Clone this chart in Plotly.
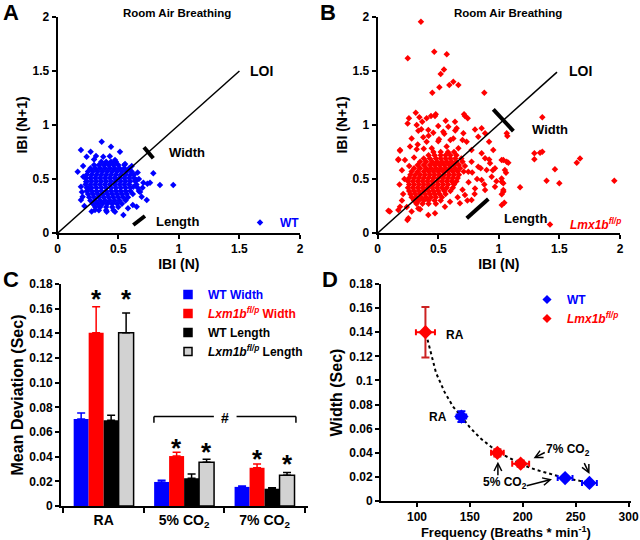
import plotly.graph_objects as go

FONT = "Liberation Sans, Arial, sans-serif"
BLUE = "#0000ff"
RED = "#ff0000"
GRAY = "#d2d2d2"

# ---------------- Panel A: WT Poincare plot (IBI(N), IBI(N+1)) ----------------
wt_core_rows = {
    0.66: [0.36, 0.40, 0.44, 0.48],
    0.63: [0.30, 0.34, 0.38, 0.42, 0.46, 0.50, 0.55],
    0.60: [0.27, 0.31, 0.35, 0.39, 0.43, 0.47, 0.51, 0.55, 0.59],
    0.57: [0.25, 0.29, 0.33, 0.37, 0.41, 0.45, 0.49, 0.53, 0.57, 0.61],
    0.54: [0.24, 0.28, 0.32, 0.36, 0.40, 0.44, 0.48, 0.52, 0.56, 0.60, 0.63],
    0.51: [0.23, 0.27, 0.31, 0.35, 0.39, 0.43, 0.47, 0.51, 0.55, 0.59, 0.63],
    0.48: [0.24, 0.28, 0.32, 0.36, 0.40, 0.44, 0.48, 0.52, 0.56, 0.60, 0.64],
    0.45: [0.23, 0.27, 0.31, 0.35, 0.39, 0.43, 0.47, 0.51, 0.55, 0.59, 0.65],
    0.42: [0.24, 0.28, 0.32, 0.36, 0.40, 0.44, 0.48, 0.52, 0.56, 0.60, 0.66],
    0.39: [0.24, 0.28, 0.32, 0.36, 0.40, 0.44, 0.48, 0.52, 0.56, 0.60, 0.67],
    0.36: [0.25, 0.29, 0.33, 0.37, 0.41, 0.45, 0.49, 0.53, 0.57, 0.62],
    0.33: [0.26, 0.30, 0.34, 0.38, 0.42, 0.46, 0.50, 0.54, 0.58],
    0.30: [0.27, 0.31, 0.35, 0.39, 0.43, 0.47, 0.51, 0.56],
    0.27: [0.29, 0.33, 0.37, 0.41, 0.45, 0.49, 0.53],
    0.24: [0.31, 0.35, 0.40, 0.45, 0.50],
    0.21: [0.34, 0.40, 0.46],
}
wt_scattered = [
    (0.363, 0.845), (0.192, 0.768), (0.440, 0.799), (0.272, 0.753), (0.514, 0.753),
    (0.316, 0.713), (0.239, 0.707), (0.376, 0.707), (0.473, 0.676), (0.611, 0.620),
    (0.556, 0.639), (0.165, 0.568), (0.789, 0.553), (0.211, 0.521), (0.652, 0.491),
    (0.707, 0.466), (0.762, 0.466), (0.844, 0.444), (0.954, 0.444), (0.624, 0.429),
    (0.192, 0.429), (0.192, 0.306), (0.206, 0.336), (0.693, 0.336), (0.735, 0.306),
    (0.652, 0.244), (0.308, 0.213), (0.404, 0.197), (0.473, 0.197), (0.542, 0.167),
    (0.253, 0.414), (0.234, 0.475), (0.210, 0.620), (0.660, 0.560), (0.670, 0.500),
    (0.620, 0.260), (0.580, 0.230), (0.280, 0.200), (0.220, 0.250), (0.200, 0.380),
    (0.680, 0.380), (0.700, 0.420), (0.740, 0.455), (0.300, 0.680), (0.430, 0.710),
]

# ---------------- Panel B: Lmx1b f/p Poincare plot ----------------
lmx_core_rows = {
    0.75: [0.46, 0.52, 0.58, 0.63],
    0.72: [0.42, 0.47, 0.52, 0.56, 0.60, 0.65],
    0.69: [0.38, 0.43, 0.48, 0.52, 0.56, 0.60, 0.64, 0.69],
    0.66: [0.35, 0.40, 0.45, 0.49, 0.53, 0.57, 0.61, 0.65, 0.70],
    0.63: [0.33, 0.38, 0.43, 0.47, 0.51, 0.55, 0.59, 0.63, 0.67],
    0.60: [0.30, 0.35, 0.40, 0.44, 0.48, 0.52, 0.56, 0.60, 0.64, 0.68],
    0.57: [0.28, 0.33, 0.38, 0.42, 0.46, 0.50, 0.54, 0.58, 0.62, 0.66, 0.71],
    0.54: [0.27, 0.31, 0.35, 0.39, 0.43, 0.47, 0.51, 0.55, 0.59, 0.63, 0.67],
    0.51: [0.26, 0.30, 0.34, 0.38, 0.42, 0.46, 0.50, 0.54, 0.58, 0.62, 0.66],
    0.48: [0.25, 0.29, 0.33, 0.37, 0.41, 0.45, 0.49, 0.53, 0.57, 0.61, 0.65],
    0.45: [0.26, 0.30, 0.34, 0.38, 0.42, 0.46, 0.50, 0.54, 0.58, 0.63],
    0.42: [0.25, 0.29, 0.33, 0.37, 0.41, 0.45, 0.49, 0.53, 0.57, 0.62],
    0.39: [0.26, 0.30, 0.34, 0.38, 0.42, 0.46, 0.50, 0.55, 0.60],
    0.36: [0.27, 0.31, 0.35, 0.39, 0.43, 0.47, 0.51, 0.56],
    0.33: [0.28, 0.32, 0.36, 0.40, 0.44, 0.48, 0.53],
    0.30: [0.30, 0.34, 0.38, 0.42, 0.47, 0.52],
    0.27: [0.32, 0.37, 0.42, 0.48],
}
lmx_scattered = [
    (0.314, 1.114), (0.473, 1.083), (0.258, 1.062), (0.344, 1.071), (0.404, 1.062),
    (0.440, 1.083), (0.720, 1.083), (0.743, 1.062), (0.247, 1.015), (0.322, 1.000),
    (0.368, 1.031), (0.561, 1.040), (0.638, 1.031), (0.500, 0.990), (0.583, 0.984),
    (0.335, 0.947), (0.418, 0.953), (0.459, 0.929), (0.541, 0.938), (0.652, 0.969),
    (0.707, 0.923), (0.803, 0.959), (0.858, 0.969), (0.886, 0.923), (0.280, 0.876),
    (0.376, 0.886), (0.404, 0.845), (0.506, 0.867), (0.624, 0.876), (0.734, 0.845),
    (0.830, 0.892), (0.919, 0.845), (0.184, 0.769), (0.267, 0.800), (0.322, 0.775),
    (0.446, 0.784), (0.569, 0.800), (0.666, 0.784), (0.775, 0.769), (0.858, 0.738),
    (0.954, 0.769), (0.225, 0.676), (0.170, 0.682), (0.886, 0.691), (0.927, 0.645),
    (0.968, 0.600), (1.023, 0.676), (0.899, 0.583), (0.830, 0.614), (0.775, 0.660),
    (0.748, 0.568), (0.941, 0.520), (0.858, 0.490), (1.023, 0.505), (0.803, 0.413),
    (0.886, 0.398), (0.968, 0.429), (1.037, 0.398), (0.720, 0.352), (0.775, 0.306),
    (0.679, 0.275), (0.555, 0.244), (0.473, 0.182), (0.335, 0.228), (0.253, 0.136),
    (0.170, 0.213), (0.184, 0.244), (0.418, 0.167), (0.597, 0.290), (0.720, 0.620),
    (0.780, 0.560), (0.820, 0.500), (0.750, 0.470), (0.700, 0.400), (0.850, 0.600),
    (0.920, 0.680), (0.950, 0.580), (0.880, 0.450), (0.800, 0.360), (0.740, 0.300),
    (0.660, 0.330), (0.980, 0.480), (0.200, 0.580), (0.220, 0.500), (0.180, 0.450),
    (0.210, 0.360), (0.200, 0.300), (0.240, 0.240), (0.280, 0.200), (0.350, 0.220),
    (0.260, 0.620), (0.300, 0.700), (0.330, 0.820), (0.380, 0.780), (0.420, 0.900),
    (0.500, 0.850), (0.550, 0.920), (0.600, 0.860), (0.640, 0.950), (0.700, 0.860),
    (0.360, 0.960), (0.100, 0.200), (0.088, 0.206), (0.245, 0.120), (0.170, 0.676),
    (0.184, 0.762),
    # outliers
    (0.357, 1.957), (0.248, 1.617), (0.467, 1.679), (0.570, 1.654), (0.547, 1.515),
    (0.520, 1.472), (0.624, 1.401), (0.666, 1.370), (0.591, 1.370), (0.509, 1.349),
    (0.451, 1.299), (0.880, 1.299), (0.479, 1.099), (0.713, 1.099), (1.359, 1.071),
    (1.065, 0.923), (1.070, 0.898), (1.293, 0.738), (1.340, 0.744), (1.359, 0.753),
    (1.293, 0.682), (1.037, 0.676), (1.065, 0.660), (1.078, 0.651), (1.050, 0.583),
    (1.059, 0.558), (1.670, 0.690), (1.643, 0.651), (1.463, 0.590), (1.394, 0.484),
    (1.499, 0.460), (1.953, 0.484), (1.024, 0.475), (1.037, 0.460), (1.175, 0.423),
    (1.037, 0.383), (1.024, 0.358), (1.045, 0.281), (1.024, 0.259),
]

# ---------------- Panel C: mean deviation bars ----------------
conditions = ["RA", "5% CO<sub>2</sub>", "7% CO<sub>2</sub>"]
wt_width = [0.0705, 0.0195, 0.0155]
wt_width_err = [0.0050, 0.0013, 0.0007]
lmx_width = [0.1405, 0.0405, 0.0310]
lmx_width_err = [0.0210, 0.0030, 0.0030]
wt_length = [0.0695, 0.0225, 0.0140]
wt_length_err = [0.0040, 0.0035, 0.0008]
lmx_length = [0.1405, 0.0355, 0.0250]
lmx_length_err = [0.0160, 0.0025, 0.0022]
c_yticks = [0, 0.02, 0.04, 0.06, 0.08, 0.10, 0.12, 0.14, 0.16, 0.18]
c_yticktext = ["0", "0.02", "0.04", "0.06", "0.08", "0.10", "0.12", "0.14", "0.16", "0.18"]

# ---------------- Panel D: width vs frequency ----------------
wt_freq = [142, 240, 263]
wt_freq_err = [4.5, 7, 7]
wt_w = [0.070, 0.019, 0.015]
wt_w_err = [0.0045, 0.0015, 0.0012]
lmx_freq = [108, 176, 198]
lmx_freq_err = [9, 6, 8]
lmx_w = [0.140, 0.040, 0.031]
lmx_w_err = [0.021, 0.003, 0.0025]
fit_freq = [110, 118, 126, 134, 142, 150, 160, 170, 180, 190, 200, 212, 225, 240, 255, 265]
fit_w = [0.1338, 0.1063, 0.0905, 0.0784, 0.0700, 0.0610, 0.0520, 0.0450, 0.0390, 0.0342, 0.0300,
         0.0260, 0.0225, 0.0190, 0.0165, 0.0150]

def rows_to_xy(rows):
    xs, ys = [], []
    for y, xlist in rows.items():
        for x in xlist:
            xs.append(x)
            ys.append(y)
    return xs, ys

wx, wy = rows_to_xy(wt_core_rows)
wx += [p[0] for p in wt_scattered]
wy += [p[1] for p in wt_scattered]
lx, ly = rows_to_xy(lmx_core_rows)
lx += [p[0] for p in lmx_scattered]
ly += [p[1] for p in lmx_scattered]

LMX_C = "<i>Lxm1b</i><sup><i>fl/p</i></sup>"
LMX_D = "<i>Lmx1b</i><sup><i>fl/p</i></sup>"

fig = go.Figure()

fig.add_trace(go.Scatter(x=wx, y=wy, mode="markers", xaxis="x", yaxis="y",
                         marker=dict(symbol="diamond", size=5, color=BLUE),
                         name="WT", legend="legend2", cliponaxis=False))
fig.add_trace(go.Scatter(x=lx, y=ly, mode="markers", xaxis="x2", yaxis="y2",
                         marker=dict(symbol="diamond", size=5, color=RED),
                         name=LMX_D, legend="legend3", cliponaxis=False))

def bar(vals, errs, color, err_color, line=None):
    return go.Bar(x=conditions, y=vals, xaxis="x3", yaxis="y3", showlegend=False,
                  marker=dict(color=color, line=line or dict(width=0)),
                  error_y=dict(type="data", array=errs, arrayminus=[0] * len(errs), symmetric=False,
                               color=err_color, thickness=1.5, width=4))

fig.add_trace(bar(wt_width, wt_width_err, BLUE, BLUE))
fig.add_trace(bar(lmx_width, lmx_width_err, RED, RED))
fig.add_trace(bar(wt_length, wt_length_err, "#000000", "#000000"))
fig.add_trace(bar(lmx_length, lmx_length_err, GRAY, "#000000", line=dict(color="#000000", width=1.5)))

# legend entries for panel C (square swatches)
def c_key(name, color, line_color):
    return go.Scatter(x=[None], y=[None], mode="markers", xaxis="x3", yaxis="y3", name=name,
                      legend="legend",
                      marker=dict(symbol="square", size=8, color=color,
                                  line=dict(color=line_color, width=1.5)))

fig.add_trace(c_key('<span style="color:#0000ff">WT Width</span>', BLUE, BLUE))
fig.add_trace(c_key('<span style="color:#ff0000">' + LMX_C + ' Width</span>', RED, RED))
fig.add_trace(c_key("WT Length", "#000000", "#000000"))
fig.add_trace(c_key(LMX_C + " Length", GRAY, "#000000"))

fig.add_trace(go.Scatter(x=fit_freq, y=fit_w, mode="lines", xaxis="x4", yaxis="y4",
                         line=dict(color="#000000", width=2, dash="dot"), showlegend=False))
fig.add_trace(go.Scatter(x=wt_freq, y=wt_w, mode="markers", xaxis="x4", yaxis="y4",
                         marker=dict(symbol="diamond", size=11, color=BLUE),
                         error_y=dict(type="data", array=wt_w_err, color=BLUE, thickness=2, width=4),
                         error_x=dict(type="data", array=wt_freq_err, color=BLUE, thickness=2, width=3),
                         showlegend=False))
fig.add_trace(go.Scatter(x=lmx_freq, y=lmx_w, mode="markers", xaxis="x4", yaxis="y4",
                         marker=dict(symbol="diamond", size=11, color=RED),
                         error_y=dict(type="data", array=lmx_w_err, color="#cc2222", thickness=2, width=4),
                         error_x=dict(type="data", array=lmx_freq_err, color=RED, thickness=2, width=3),
                         showlegend=False))
fig.add_trace(go.Scatter(x=[None], y=[None], mode="markers", xaxis="x4", yaxis="y4",
                         marker=dict(symbol="diamond", size=7, color=BLUE),
                         name='<span style="color:#0000ff">WT</span>', legend="legend4"))
fig.add_trace(go.Scatter(x=[None], y=[None], mode="markers", xaxis="x4", yaxis="y4",
                         marker=dict(symbol="diamond", size=7, color=RED),
                         name='<span style="color:#ff0000">' + LMX_D + '</span>', legend="legend4"))

tickfont = dict(family=FONT, size=12, color="#000", weight="bold")
def axis(domain, anchor, title, tsize, standoff, **kw):
    d = dict(domain=domain, anchor=anchor, showline=True, linecolor="#000", linewidth=2,
             ticks="outside", ticklen=4, tickwidth=2, tickcolor="#000", showgrid=False,
             zeroline=False, tickfont=tickfont, automargin=False,
             title=dict(text=title, standoff=standoff,
                        font=dict(family=FONT, size=tsize, color="#000", weight="bold")))
    d.update(kw)
    return d

ab_ticks = dict(tickvals=[0, 0.5, 1, 1.5, 2], ticktext=["0", "0.5", "1", "1.5", "2"], range=[0, 2])
ydomAB = [1 - 233 / 540, 1 - 17 / 540]
ydomC = [1 - 506 / 540, 1 - 284 / 540]
ydomD = [1 - 501 / 540, 1 - 284 / 540]

legend_common = dict(xanchor="left", yanchor="top", bgcolor="rgba(0,0,0,0)", tracegroupgap=0,
                     itemclick=False, itemdoubleclick=False)

fig.update_layout(
    width=640, height=540, margin=dict(l=0, r=0, t=0, b=0, autoexpand=False),
    paper_bgcolor="white", plot_bgcolor="white",
    font=dict(family=FONT, color="#000"),
    barmode="group", bargap=0.255, bargroupgap=0,
    xaxis=axis([57.7 / 640, 300 / 640], "y", "IBI (N)", 14, 0, **ab_ticks),
    yaxis=axis(ydomAB, "x", "IBI (N+1)", 14, 2, **ab_ticks),
    xaxis2=axis([377.7 / 640, 620 / 640], "y2", "IBI (N)", 14, 0, **ab_ticks),
    yaxis2=axis(ydomAB, "x2", "IBI (N+1)", 14, 2, **ab_ticks),
    xaxis3=axis([61 / 640, 308 / 640], "y3", "", 14, 1, type="category", range=[-0.53, 2.54],
                tickson="boundaries", ticklen=5,
                tickfont=dict(family=FONT, size=14, color="#000", weight="bold")),
    yaxis3=axis(ydomC, "x3", "Mean Deviation (Sec)", 16, 2, range=[0, 0.18],
                tickvals=c_yticks, ticktext=c_yticktext),
    xaxis4=axis([381 / 640, 630.7 / 640], "y4", "Frequency (Breaths * min<sup>-1</sup>)", 13, 5,
                range=[66, 302], tickvals=[100, 150, 200, 250, 300]),
    yaxis4=axis(ydomD, "x4", "Width (Sec)", 16, 3, range=[0, 0.18], dtick=0.02, tick0=0),
    legend=dict(x=168 / 640, y=1 - 280 / 540,
                font=dict(family=FONT, size=12, color="#000", weight="bold"), **legend_common),
    legend2=dict(x=240 / 640, y=1 - 208 / 540,
                 font=dict(family=FONT, size=12, color=BLUE, weight="bold"), **legend_common),
    legend3=dict(x=530 / 640, y=1 - 210 / 540,
                 font=dict(family=FONT, size=12, color=RED, weight="bold"), **legend_common),
    legend4=dict(x=527 / 640, y=1 - 285 / 540,
                 font=dict(family=FONT, size=12, color="#000", weight="bold"), **legend_common),
)

def txt(text, x, y, xref, yref, size=13, xanchor="center", color="#000", **kw):
    return dict(text=text, x=x, y=y, xref=xref, yref=yref, showarrow=False, xanchor=xanchor,
                yanchor="middle", font=dict(family=FONT, size=size, color=color, weight="bold"), **kw)

ann = [
    txt("A", 11 / 640, 1 - 12.5 / 540, "paper", "paper", size=22),
    txt("B", 328 / 640, 1 - 12.5 / 540, "paper", "paper", size=22),
    txt("C", 11 / 640, 1 - 279 / 540, "paper", "paper", size=22),
    txt("D", 330 / 640, 1 - 279 / 540, "paper", "paper", size=22),
    txt("Room Air Breathing", 177 / 640, 1 - 13 / 540, "paper", "paper", size=11.5),
    txt("Room Air Breathing", 508 / 640, 1 - 13 / 540, "paper", "paper", size=11.5),
    txt("LOI", 1.57, 1.5, "x", "y", size=14, xanchor="left"),
    txt("Width", 0.90, 0.744, "x", "y", size=13, xanchor="left"),
    txt("Length", 0.795, 0.105, "x", "y", size=13, xanchor="left"),
    txt("LOI", 1.56, 1.5, "x2", "y2", size=14, xanchor="left"),
    txt("Width", 1.257, 0.96, "x2", "y2", size=13, xanchor="left"),
    txt("Length", 1.023, 0.136, "x2", "y2", size=13, xanchor="left"),
    # panel C significance marks
    txt("*", "RA", 0.168, "x3", "y3", size=26, xshift=-7.5),
    txt("*", "RA", 0.168, "x3", "y3", size=26, xshift=22.5),
    txt("*", "5% CO<sub>2</sub>", 0.047, "x3", "y3", size=26, xshift=-7.5),
    txt("*", "5% CO<sub>2</sub>", 0.044, "x3", "y3", size=26, xshift=22.5),
    txt("*", "7% CO<sub>2</sub>", 0.038, "x3", "y3", size=26, xshift=-7.5),
    txt("*", "7% CO<sub>2</sub>", 0.034, "x3", "y3", size=26, xshift=22.5),
    txt("#", 1.506, 0.0715, "x3", "y3", size=14),
    # panel D labels
    txt("RA", 126, 0.138, "x4", "y4", size=12, xanchor="left"),
    txt("RA", 130, 0.070, "x4", "y4", size=12, xanchor="right"),
    txt("7% CO<sub>2</sub>", 243, 0.0423, "x4", "y4", size=12),
    txt("5% CO<sub>2</sub>", 183.4, 0.0147, "x4", "y4", size=12),
]

def arrow(x, y, ax, ay):
    return dict(x=x, y=y, ax=ax, ay=ay, xref="x4", yref="y4", axref="x4", ayref="y4", text="",
                showarrow=True, arrowhead=5, arrowsize=1, arrowwidth=1.5, arrowcolor="#000")

ann += [
    arrow(210.2, 0.0354, 222.2, 0.0409),
    arrow(263.1, 0.0224, 257.4, 0.0326),
    arrow(176.5, 0.0326, 176.5, 0.0202),
    arrow(227.6, 0.0180, 202.3, 0.0124),
]
fig.update_layout(annotations=ann)

def seg(x0, y0, x1, y1, xref, yref, w):
    return dict(type="line", x0=x0, y0=y0, x1=x1, y1=y1, xref=xref, yref=yref,
                line=dict(color="#000", width=w))

shapes = [
    seg(0, 0, 1.5, 1.5, "x", "y", 1.5),
    seg(0.712, 0.794, 0.789, 0.692, "x", "y", 4),
    seg(0.624, 0.074, 0.720, 0.157, "x", "y", 4),
    seg(0, 0, 1.48, 1.49, "x2", "y2", 1.5),
    seg(0.954, 1.145, 1.120, 0.944, "x2", "y2", 4),
    seg(0.735, 0.136, 0.913, 0.315, "x2", "y2", 4),
    # bracket in C
    seg(0.625, 0.0725, 1.37, 0.0725, "x3", "y3", 1.5),
    seg(1.652, 0.0725, 2.39, 0.0725, "x3", "y3", 1.5),
    seg(0.625, 0.0725, 0.625, 0.0675, "x3", "y3", 1.5),
    seg(2.39, 0.0725, 2.39, 0.0675, "x3", "y3", 1.5),
]
fig.update_layout(shapes=shapes)

fig.write_html("out.html",
               config={"displayModeBar": False},
               post_script="document.body.style.margin='0px';"
                           "document.documentElement.style.margin='0px';")
